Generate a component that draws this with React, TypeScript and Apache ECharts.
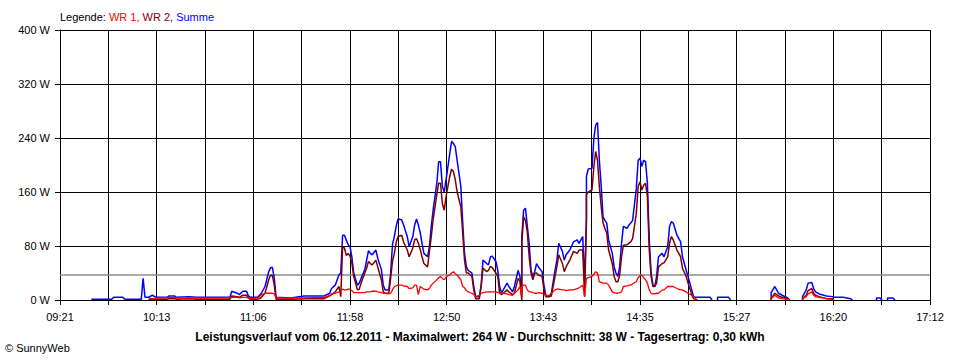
import React, { useEffect, useRef } from "react";
import * as echarts from "echarts";

const X_LABELS = ["09:21", "10:13", "11:06", "11:58", "12:50", "13:43", "14:35", "15:27", "16:20", "17:12"];
const Y_MAX = 400;
const Y_STEP = 80;
const AVERAGE_W = 38;

const n = null;

const TIMES = [
  "09:38", "09:49", "09:50", "09:55", "09:56", "10:05", "10:06", "10:07", "10:09", "10:11",
  "10:13", "10:19", "10:20", "10:23", "10:24", "10:31", "10:35", "10:53", "10:54", "10:57",
  "10:58", "11:00", "11:02", "11:03", "11:04", "11:08", "11:09", "11:10", "11:12", "11:14",
  "11:15", "11:16", "11:17", "11:18", "11:26", "11:33", "11:44", "11:47", "11:48", "11:50",
  "11:52", "11:53", "11:54", "11:55", "11:56", "11:57", "11:58", "11:59", "12:00", "12:02",
  "12:03", "12:04", "12:06", "12:07", "12:08", "12:09", "12:10", "12:12", "12:13", "12:15",
  "12:16", "12:17", "12:19", "12:20", "12:21", "12:22", "12:23", "12:24", "12:26", "12:27",
  "12:29", "12:30", "12:32", "12:33", "12:34", "12:35", "12:36", "12:37", "12:38", "12:40",
  "12:41", "12:42", "12:43", "12:45", "12:46", "12:47", "12:48", "12:49", "12:50", "12:52",
  "12:53", "12:54", "12:55", "12:56", "12:58", "12:59", "13:00", "13:01", "13:02", "13:04",
  "13:05", "13:06", "13:08", "13:09", "13:10", "13:12", "13:13", "13:14", "13:15", "13:17",
  "13:18", "13:19", "13:20", "13:21", "13:23", "13:24", "13:26", "13:27", "13:29", "13:30",
  "13:31", "13:31", "13:32", "13:33", "13:34", "13:35", "13:36", "13:37", "13:38", "13:39",
  "13:40", "13:42", "13:43", "13:44", "13:46", "13:47", "13:49", "13:50", "13:51", "13:53",
  "13:54", "13:55", "13:57", "13:59", "14:01", "14:02", "14:04", "14:05", "14:06", "14:06",
  "14:07", "14:09", "14:10", "14:11", "14:12", "14:13", "14:14", "14:15", "14:16", "14:17",
  "14:18", "14:20", "14:21", "14:22", "14:23", "14:24", "14:25", "14:26", "14:28", "14:29",
  "14:30", "14:31", "14:33", "14:34", "14:35", "14:36", "14:37", "14:38", "14:39", "14:40",
  "14:41", "14:42", "14:43", "14:44", "14:45", "14:47", "14:48", "14:50", "14:51", "14:52",
  "14:53", "14:55", "14:57", "14:58", "15:00", "15:01", "15:03", "15:04", "15:05", "15:06",
  "15:07", "15:13", "15:14", "15:15", "15:17", "15:17", "15:23", "15:24", "15:30", "15:46",
  "15:46", "15:48", "15:49", "15:50", "15:52", "15:55", "15:56", "15:58", "16:03", "16:03",
  "16:05", "16:06", "16:08", "16:09", "16:10", "16:12", "16:16", "16:19", "16:20", "16:25",
  "16:29", "16:30", "16:35", "16:43", "16:43", "16:45", "16:46", "16:47", "16:49", "16:49",
  "16:52", "16:53",
];

const WR1 = [
  n, n, n, n, n, n, n, n, 2, 2,
  3, 3, 4, 4, 3, 3, 3, 3, 4, 4,
  3, 4, 4, 3, 2, 3, 5, 8, 10, 10,
  10, 10, 9, 3, 3, 3, 4, 7, 9, 10,
  12, 14, 16, 15, 15, 16, 16, 14, 11, 11,
  11, 11, 11, 12, 12, 12, 13, 13, 12, 11,
  10, 10, 9, 10, 15, 20, 21, 22, 22, 21,
  20, 17, 18, 22, 22, 8, 20, 18, 16, 15,
  17, 22, 25, 30, 33, 35, 32, 30, 34, 37,
  40, 42, 39, 37, 30, 20, 18, 14, 12, 10,
  8, 5, 7, 10, 11, 12, 12, 12, 12, 12,
  11, 11, 10, 10, 9, 8, 7, 10, 15, 20,
  5, 20, 22, 22, 15, 12, 12, 11, 10, 10,
  11, 10, 8, 7, 7, 10, 15, 16, 16, 15,
  15, 14, 15, 15, 17, 18, 22, 5, 32, 32,
  33, 35, 38, 42, 40, 27, 26, 25, 25, 25,
  22, 12, 11, 10, 10, 11, 12, 20, 21, 22,
  22, 24, 27, 33, 36, 37, 33, 30, 25, 15,
  10, 9, 9, 10, 10, 15, 15, 20, 20, 20,
  20, 17, 15, 15, 12, 10, 7, 4, 2, 0,
  n, n, n, n, n, n, n, n, n, 0,
  2, 7, 5, 3, 2, 1, 0, n, 0, 2,
  5, 9, 12, 7, 5, 4, 2, 1, 0, n,
  n, n, n, n, n, n, n, n, n, n,
  n, n,
];

const WR2 = [
  n, n, n, n, n, n, n, n, 1, 1,
  1, 1, 2, 2, 1, 2, 1, 1, 6, 5,
  4, 7, 7, 3, 1, 1, 2, 4, 10, 30,
  37, 36, 22, 1, 1, 2, 2, 6, 8, 12,
  20, 5, 79, 77, 66, 69, 65, 55, 35, 15,
  16, 25, 40, 47, 57, 54, 52, 59, 49, 30,
  12, 10, 10, 32, 57, 69, 85, 94, 96, 86,
  74, 64, 77, 89, 91, 84, 75, 64, 54, 49,
  72, 94, 119, 156, 173, 173, 143, 133, 153, 183,
  194, 190, 178, 160, 138, 100, 59, 40, 40, 35,
  15, 2, 2, 20, 47, 42, 44, 50, 48, 40,
  35, 10, 8, 10, 15, 12, 8, 10, 32, 28,
  0, 84, 123, 118, 100, 64, 40, 30, 40, 40,
  37, 35, 15, 5, 5, 6, 35, 49, 67, 54,
  42, 49, 59, 72, 69, 74, 74, 5, 114, 156,
  160, 163, 197, 220, 207, 168, 138, 114, 106, 99,
  74, 54, 35, 27, 27, 37, 64, 81, 82, 84,
  86, 91, 128, 168, 175, 163, 170, 173, 153, 75,
  35, 20, 20, 25, 49, 54, 55, 64, 84, 94,
  89, 74, 64, 47, 35, 25, 8, 2, 1, 0,
  n, n, n, n, n, n, n, n, n, 0,
  2, 10, 8, 6, 4, 2, 0, n, 0, 2,
  7, 14, 17, 10, 7, 5, 2, 2, 0, n,
  n, n, n, n, n, n, n, n, n, n,
  n, n,
];

const SUMME = [
  1, 1, 4, 4, 1, 1, 32, 4, 4, 7,
  4, 4, 6, 6, 4, 5, 4, 4, 13, 10,
  8, 13, 13, 6, 4, 4, 7, 10, 20, 42,
  48, 48, 32, 4, 3, 6, 6, 10, 17, 22,
  37, 40, 96, 96, 89, 82, 79, 64, 40, 22,
  25, 32, 45, 59, 73, 69, 67, 74, 62, 45,
  22, 15, 15, 40, 82, 94, 109, 120, 119, 111,
  94, 79, 94, 111, 120, 111, 100, 84, 69, 64,
  79, 109, 133, 173, 205, 205, 168, 160, 178, 217,
  235, 232, 227, 207, 168, 116, 69, 49, 44, 40,
  20, 5, 5, 22, 59, 54, 52, 64, 65, 57,
  44, 20, 10, 15, 25, 20, 12, 20, 44, 35,
  5, 94, 133, 136, 109, 84, 44, 35, 42, 54,
  49, 42, 22, 7, 5, 10, 44, 59, 84, 72,
  59, 67, 74, 86, 89, 84, 94, 25, 123, 183,
  194, 195, 239, 259, 263, 207, 168, 123, 118, 114,
  89, 69, 49, 40, 35, 49, 84, 109, 106, 111,
  114, 118, 165, 207, 210, 198, 207, 205, 173, 90,
  40, 22, 20, 35, 64, 69, 64, 79, 109, 116,
  114, 96, 86, 64, 44, 35, 15, 5, 4, 4,
  4, 4, 0, n, 0, 4, 4, 0, n, 0,
  11, 20, 15, 10, 7, 3, 0, n, 0, 5,
  15, 25, 26, 17, 12, 9, 6, 5, 4, 4,
  2, 0, n, 0, 3, 3, 0, n, 0, 3,
  3, 0,
];

const STEP_SEC = 1570;
const START_MIN = 9 * 60 + 21;
const X_MAX = STEP_SEC * 18;

function toSec(t: string): number {
  const [h, m] = t.split(":").map(Number);
  return (h * 60 + m - START_MIN) * 60;
}

function pairs(values: (number | null)[]) {
  return TIMES.map((t, i) => [toSec(t), values[i] === null ? "-" : values[i]]);
}

const FONT = "'Liberation Sans', Arial, sans-serif";

export default function App() {
  const ref = useRef<HTMLDivElement>(null);
  useEffect(() => {
    if (!ref.current) return;
    const chart = echarts.init(ref.current, undefined, { renderer: "svg" });
    chart.setOption({
      animation: false,
      backgroundColor: "#ffffff",
      textStyle: { fontFamily: FONT },
      grid: { left: 60, right: 30, top: 30, bottom: 60, containLabel: false },
      xAxis: {
        type: "value",
        min: 0,
        max: X_MAX,
        interval: STEP_SEC,
        axisLine: { show: true, lineStyle: { color: "#000", width: 1 } },
        axisTick: { show: true, length: 5, lineStyle: { color: "#000", width: 1 } },
        splitLine: { show: true, lineStyle: { color: "#000", width: 1 } },
        axisLabel: {
          color: "#000",
          fontSize: 11,
          fontFamily: FONT,
          margin: 11,
          showMinLabel: true,
          showMaxLabel: true,
          formatter: (v: number) => {
            const k = Math.round(v / STEP_SEC);
            return k % 2 === 0 ? X_LABELS[k / 2] ?? "" : "";
          },
        },
      },
      yAxis: {
        type: "value",
        min: 0,
        max: Y_MAX,
        interval: Y_STEP,
        axisLine: { show: true, lineStyle: { color: "#000", width: 1 } },
        axisTick: { show: true, length: 5, lineStyle: { color: "#000", width: 1 } },
        splitLine: { show: true, lineStyle: { color: "#000", width: 1 } },
        axisLabel: {
          color: "#000",
          fontSize: 11,
          fontFamily: FONT,
          margin: 10,
          formatter: "{value} W",
        },
      },
      series: [
        {
          name: "Summe",
          type: "line",
          data: pairs(SUMME),
          showSymbol: false,
          connectNulls: false,
          lineStyle: { color: "#0000ff", width: 1.5 },
          itemStyle: { color: "#0000ff" },
          z: 2,
          markLine: {
            silent: true,
            symbol: "none",
            label: { show: false },
            lineStyle: { color: "#8c8c8c", width: 1.5, type: "solid" },
            data: [{ yAxis: AVERAGE_W }],
            z: 1,
          },
        },
        {
          name: "WR 2",
          type: "line",
          data: pairs(WR2),
          showSymbol: false,
          connectNulls: false,
          lineStyle: { color: "#800000", width: 1.5 },
          itemStyle: { color: "#800000" },
          z: 3,
        },
        {
          name: "WR 1",
          type: "line",
          data: pairs(WR1),
          showSymbol: false,
          connectNulls: false,
          lineStyle: { color: "#ff0000", width: 1.3 },
          itemStyle: { color: "#ff0000" },
          z: 4,
        },
      ],
      graphic: [
        {
          type: "text",
          left: 60,
          top: 11,
          style: {
            text: "{k|Legende: }{a|WR 1, }{b|WR 2, }{c|Summe}",
            font: `11px ${FONT}`,
            rich: {
              k: { fill: "#000", fontSize: 11, fontFamily: FONT },
              a: { fill: "#ff0000", fontSize: 11, fontFamily: FONT },
              b: { fill: "#800000", fontSize: 11, fontFamily: FONT },
              c: { fill: "#0000ff", fontSize: 11, fontFamily: FONT },
            },
          },
        },
        {
          type: "text",
          x: 480,
          y: 337,
          style: {
            text: "Leistungsverlauf vom 06.12.2011 - Maximalwert: 264 W - Durchschnitt: 38 W - Tagesertrag: 0,30 kWh",
            fill: "#000",
            font: `bold 12px ${FONT}`,
            align: "center",
            verticalAlign: "middle",
          },
        },
        {
          type: "text",
          x: 5,
          y: 348,
          style: {
            text: "© SunnyWeb",
            fill: "#000",
            font: `11px ${FONT}`,
            align: "left",
            verticalAlign: "middle",
          },
        },
      ],
    });
    return () => chart.dispose();
  }, []);
  return <div ref={ref} style={{ width: 960, height: 360, position: "absolute", left: 0, top: 0 }} />;
}
